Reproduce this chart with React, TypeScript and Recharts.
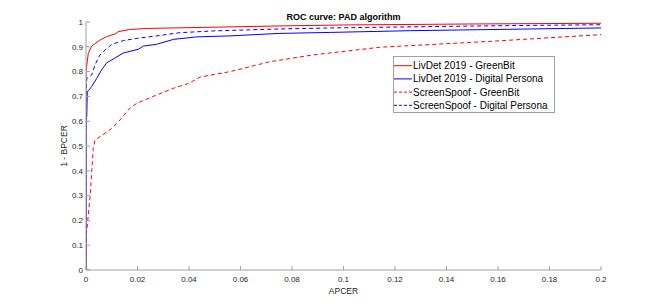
import React from 'react';
import { LineChart, Line, XAxis, YAxis } from 'recharts';

// ---- data ----
const xTicks = [0, 0.02, 0.04, 0.06, 0.08, 0.1, 0.12, 0.14, 0.16, 0.18, 0.2];
const yTicks = [0, 0.1, 0.2, 0.3, 0.4, 0.5, 0.6, 0.7, 0.8, 0.9, 1];

const seriesNames = [
  'LivDet 2019 - GreenBit',
  'LivDet 2019 - Digital Persona',
  'ScreenSpoof - GreenBit',
  'ScreenSpoof - Digital Persona',
];

// LivDet 2019 - GreenBit (red solid)
const livGbX = [0, 0, 0.0009, 0.0022, 0.0054, 0.008, 0.0113, 0.0125, 0.017, 0.0236, 0.049, 0.075, 0.1, 0.15, 0.2];
const livGbY = [0, 0.8, 0.874, 0.903, 0.927, 0.941, 0.952, 0.961, 0.97, 0.974, 0.979, 0.984, 0.988, 0.992, 0.995];

// LivDet 2019 - Digital Persona (blue solid)
const livDpX = [0, 0, 0.0003, 0.0005, 0.0009, 0.0022, 0.0042, 0.006, 0.008, 0.0145, 0.0203, 0.0223, 0.0274, 0.034, 0.043, 0.056, 0.075, 0.095, 0.126, 0.16, 0.2];
const livDpY = [0, 0.6, 0.62, 0.72, 0.722, 0.74, 0.773, 0.806, 0.835, 0.875, 0.89, 0.903, 0.91, 0.93, 0.94, 0.944, 0.954, 0.958, 0.965, 0.97, 0.976];

// ScreenSpoof - GreenBit (red dashed)
const ssGbX = [0, 0.0002, 0.0016, 0.0028, 0.0035, 0.0054, 0.0093, 0.0132, 0.017, 0.0197, 0.0275, 0.034, 0.04, 0.0443, 0.056, 0.0715, 0.088, 0.114, 0.157, 0.2];
const ssGbY = [0, 0.15, 0.296, 0.49, 0.524, 0.537, 0.565, 0.605, 0.652, 0.672, 0.706, 0.733, 0.753, 0.778, 0.8, 0.84, 0.867, 0.898, 0.922, 0.949];

// ScreenSpoof - Digital Persona (blue dashed)
const ssDpX = [0, 0, 0.0003, 0.0022, 0.0035, 0.0054, 0.0074, 0.01, 0.0145, 0.0197, 0.0275, 0.0365, 0.0494, 0.0624, 0.0753, 0.095, 0.13, 0.16, 0.2];
const ssDpY = [0, 0.72, 0.773, 0.786, 0.827, 0.867, 0.887, 0.91, 0.925, 0.934, 0.944, 0.957, 0.964, 0.968, 0.972, 0.976, 0.981, 0.985, 0.989];

const toPoints = (xs: number[], ys: number[]) => xs.map((x, i) => ({ x, y: ys[i] }));

const series = [
  { name: seriesNames[0], data: toPoints(livGbX, livGbY), color: '#ff0000', dash: undefined as string | undefined },
  { name: seriesNames[1], data: toPoints(livDpX, livDpY), color: '#0000ff', dash: undefined as string | undefined },
  { name: seriesNames[2], data: toPoints(ssGbX, ssGbY), color: '#ff0000', dash: '4 3' },
  { name: seriesNames[3], data: toPoints(ssDpX, ssDpY), color: '#0000ff', dash: '4 3' },
];

const FONT = '"Liberation Sans", Arial, Helvetica, sans-serif';
const fmt = (v: number) => String(Number(Number(v).toFixed(2)));
const AXIS = '#a0a0a0';
const TXT = '#262626';

export default function App() {
  return (
    <div style={{ position: 'absolute', left: 0, top: 0, width: 664, height: 304, background: '#fff', fontFamily: FONT }}>
      <LineChart width={664} height={304} margin={{ top: 22, right: 63, bottom: 14, left: 46 }}>
        <XAxis
          xAxisId="b"
          dataKey="x"
          type="number"
          domain={[0, 0.2]}
          ticks={xTicks}
          tickFormatter={fmt}
          height={20}
          tickSize={-4}
          tickMargin={10}
          stroke={AXIS}
          tick={{ fill: TXT, fontSize: 8 }}
          allowDataOverflow
          interval={0}
        />
        <XAxis
          xAxisId="t"
          orientation="top"
          dataKey="x"
          type="number"
          domain={[0, 0.2]}
          ticks={xTicks}
          height={0}
          tickSize={-4}
          tick={false}
          stroke={AXIS}
          allowDataOverflow
          interval={0}
        />
        <YAxis
          yAxisId="l"
          type="number"
          domain={[0, 1]}
          ticks={yTicks}
          tickFormatter={fmt}
          width={40}
          tickSize={-4}
          tickMargin={7}
          stroke={AXIS}
          tick={{ fill: TXT, fontSize: 8 }}
          allowDataOverflow
          interval={0}
        />
        <YAxis
          yAxisId="r"
          orientation="right"
          type="number"
          domain={[0, 1]}
          ticks={yTicks}
          width={0}
          tickSize={-4}
          tick={false}
          stroke={AXIS}
          allowDataOverflow
          interval={0}
        />
        {series.map((s) => (
          <Line
            key={s.name}
            xAxisId="b"
            yAxisId="l"
            data={s.data}
            dataKey="y"
            name={s.name}
            type="linear"
            stroke={s.color}
            strokeWidth={1}
            strokeDasharray={s.dash}
            dot={false}
            activeDot={false}
            isAnimationActive={false}
          />
        ))}
      </LineChart>
      <svg width={664} height={304} style={{ position: 'absolute', left: 0, top: 0, pointerEvents: 'none' }}>
        <text x={343.5} y={20} textAnchor="middle" fontSize={9} fontWeight="bold" fill="#000" fontFamily={FONT}>
          ROC curve: PAD algorithm
        </text>
        <text x={343.5} y={294} textAnchor="middle" fontSize={8.5} fill={TXT} fontFamily={FONT}>
          APCER
        </text>
        <text x={67} y={146} textAnchor="middle" fontSize={8.5} fill={TXT} fontFamily={FONT} transform="rotate(-90 67 146)">
          1 - BPCER
        </text>
        <g>
          <rect x={393.5} y={56.5} width={161} height={56} fill="#fff" stroke={AXIS} strokeWidth={1} />
          {series.map((s, i) => {
            const cy = 65.7 + i * 13.2;
            return (
              <g key={s.name}>
                <line x1={394} x2={412} y1={cy} y2={cy} stroke={s.color} strokeWidth={1} strokeDasharray={s.dash ? '3 2' : undefined} />
                <text x={413} y={cy + 3.5} fontSize={10} fill="#000" fontFamily={FONT}>
                  {s.name}
                </text>
              </g>
            );
          })}
        </g>
      </svg>
    </div>
  );
}
